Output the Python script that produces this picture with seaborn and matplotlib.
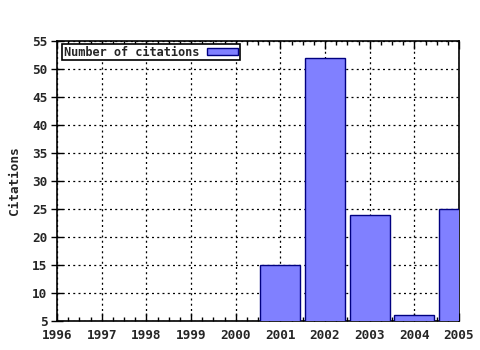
import matplotlib
matplotlib.use("Agg")
import matplotlib.pyplot as plt
import seaborn as sns
import pandas as pd
from matplotlib.ticker import MultipleLocator, AutoMinorLocator

years = [1996, 1997, 1998, 1999, 2000, 2001, 2002, 2003, 2004, 2005]
citations = [0, 0, 0, 0, 0, 15, 52, 24, 6, 25]
series_label = "Number of citations"

sns.set_style("white")
plt.rcParams['font.family'] = ['DejaVu Sans Mono']
plt.rcParams['font.weight'] = 'bold'

df = pd.DataFrame({"year": years, "citations": citations})

fig = plt.figure(figsize=(4.8, 3.5), dpi=100)
ax = fig.add_axes([57/480, 29/350, (459-57)/480, (321-41)/350])

sns.barplot(data=df, x="year", y="citations", native_scale=True, width=0.9,
            color="#8080ff", edgecolor="#000080", linewidth=1, saturation=1,
            label=series_label, ax=ax, zorder=3)

ax.set_xlim(1996, 2005)
ax.set_ylim(5, 55)
ax.xaxis.set_major_locator(MultipleLocator(1))
ax.xaxis.set_minor_locator(AutoMinorLocator(4))
ax.yaxis.set_major_locator(MultipleLocator(5))
ax.grid(True, which="major", color="black", linestyle=(0, (1.6, 2.6)), linewidth=0.9, zorder=1)
ax.set_axisbelow(True)

for s in ax.spines.values():
    s.set_color("black")
    s.set_linewidth(1.2)
    s.set_visible(True)

fs = 8.6
tfs = 9.2
ax.tick_params(axis="x", which="major", direction="in", length=6, width=1, top=True, bottom=True,
               labelsize=tfs, color="black", pad=6)
ax.tick_params(axis="x", which="minor", direction="in", length=3, width=1, top=True, bottom=True, color="black")
ax.tick_params(axis="y", which="major", direction="inout", length=8, width=1, left=True, right=False,
               labelsize=tfs, color="black", pad=3)
for lab in ax.get_xticklabels() + ax.get_yticklabels():
    lab.set_fontweight("bold")

ax.set_xlabel("")
ax.set_ylabel("Citations", fontsize=tfs, fontweight="bold", labelpad=8)

leg = ax.legend(loc="upper left", markerfirst=False, fancybox=False, frameon=True,
                edgecolor="black", framealpha=1, bbox_to_anchor=(0.012, 0.99),
                borderaxespad=0.0, borderpad=0.15, handletextpad=0.7,
                handlelength=2.6, handleheight=0.6, prop={"size": fs, "weight": "bold"})
leg.get_frame().set_linewidth(1.2)

fig.savefig("out.png", dpi=100)
